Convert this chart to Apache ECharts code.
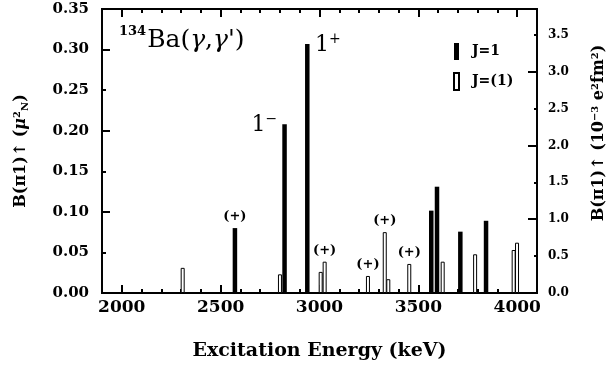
<!DOCTYPE html>
<html>
<head>
<meta charset="utf-8">
<script src="https://cdn.jsdelivr.net/npm/echarts@6/dist/echarts.min.js"></script>
<style>
  html, body { margin: 0; padding: 0; background: #fff; }
  #chart { width: 613px; height: 369px; }
</style>
</head>
<body>
<div id="chart"></div>
<script>
// J=1 levels (filled bars)
const j1Energy = [2571, 2822, 2937, 3564, 3593, 3711, 3841];
const j1Value = [0.080, 0.208, 0.307, 0.1015, 0.131, 0.0756, 0.089];
// J=(1) levels (open bars)
const j1qEnergy = [2308, 2800, 3006, 3026, 3245, 3330, 3348, 3454, 3623, 3787, 3982, 3999];
const j1qValue = [0.031, 0.023, 0.026, 0.0386, 0.021, 0.075, 0.017, 0.0358, 0.0386, 0.0477, 0.053, 0.062];
// levels marked "(+)"
const plusLevels = [2571, 3026, 3245, 3330, 3454];

const xMajorTicks = [2000, 2500, 3000, 3500, 4000];
const xMinorTicks = [2000, 2100, 2200, 2300, 2400, 2500, 2600, 2700, 2800, 2900, 3000,
  3100, 3200, 3300, 3400, 3500, 3600, 3700, 3800, 3900, 4000];
const yLeftMajor = [0.1, 0.2, 0.3];
const yRightLabels = [0, 0.5, 1, 1.5, 2, 2.5, 3, 3.5];
const yRightMinor = [0.5, 1.5, 2.5, 3.5];
const yRightMajor = [1, 2, 3];

const FONT = 'DejaVu Serif';
const black = '#000';

const chart = echarts.init(document.getElementById('chart'));

const plusLabel = {
  show: true,
  position: 'top',
  distance: 5,
  formatter: '(+)',
  fontFamily: FONT,
  fontWeight: 'bold',
  fontSize: 13,
  color: black
};

const spinLabel = {
  '2822': { show: true, position: [-5, -12], align: 'right', formatter: '{n|1}{s|−}' },
  '2937': { show: true, position: [10, -12], align: 'left', formatter: '{n|1}{s|+}' }
};
const spinRich = {
  n: { fontFamily: FONT, fontSize: 22, color: black, verticalAlign: 'bottom', lineHeight: 24 },
  s: { fontFamily: FONT, fontSize: 14, color: black, verticalAlign: 'top', lineHeight: 24, padding: [0, 0, 10, 0] }
};

const makeData = (energies, values) => energies.map((e, i) => {
  const item = { value: [e, values[i]] };
  if (plusLevels.includes(e)) item.label = plusLabel;
  if (spinLabel[e]) item.label = Object.assign({}, spinLabel[e], { rich: spinRich });
  return item;
});

// fresh objects per axis so no option object is shared
const tick = (len, values) => ({
  show: true, inside: true, length: len, customValues: values,
  lineStyle: { color: black, width: 2 }
});
const frameLine = () => ({ show: true, onZero: false, lineStyle: { color: black, width: 1.8 } });
const noLine = () => ({ show: false, onZero: false });

const xAxis = (pos, extra) => Object.assign({
  type: 'value', min: 1900, max: 4100, position: pos,
  splitLine: { show: false }, axisLine: noLine(), axisLabel: { show: false }
}, extra);
const yAxis = (pos, max, extra) => Object.assign({
  type: 'value', min: 0, max: max, position: pos,
  splitLine: { show: false }, axisLine: noLine(), axisLabel: { show: false }
}, extra);

chart.setOption({
  animation: false,
  backgroundColor: '#fff',
  grid: {
    left: 102, right: 76, top: 9, bottom: 76, containLabel: false,
    show: true, borderColor: black, borderWidth: 1.8, backgroundColor: 'transparent'
  },
  title: {
    left: 114,
    top: 20,
    text: '{sup|134}{m|Ba(}{g|γ}{m|,}{g|γ}{m|\')}',
    textStyle: {
      rich: {
        sup: { fontFamily: FONT, fontWeight: 'bold', fontSize: 13, color: black, verticalAlign: 'top', lineHeight: 30, padding: [0, 1, 12, 0] },
        m: { fontFamily: FONT, fontWeight: 'normal', fontSize: 25, color: black, lineHeight: 30 },
        g: { fontFamily: FONT, fontWeight: 'normal', fontStyle: 'italic', fontSize: 25, color: black, lineHeight: 30 }
      }
    }
  },
  legend: {
    orient: 'vertical',
    left: 448,
    top: 38,
    itemWidth: 5,
    itemHeight: 17,
    itemGap: 12,
    icon: 'rect',
    textStyle: { fontFamily: FONT, fontWeight: 'bold', fontSize: 14, color: black, padding: [0, 0, 0, 8] },
    data: ['J=1', 'J=(1)']
  },
  xAxis: [
    xAxis('bottom', {
      axisLine: frameLine(),
      axisTick: tick(8, xMajorTicks),
      axisLabel: {
        show: true, customValues: xMajorTicks, margin: 6,
        formatter: v => String(v),
        fontFamily: FONT, fontWeight: 'bold', fontSize: 17, color: black
      },
      name: 'Excitation Energy (keV)',
      nameLocation: 'middle',
      nameGap: 49,
      nameTextStyle: { fontFamily: FONT, fontWeight: 'bold', fontSize: 19, color: black }
    }),
    xAxis('bottom', { axisTick: tick(4, xMinorTicks) }),
    xAxis('top', { axisLine: frameLine(), axisTick: tick(8, xMajorTicks) }),
    xAxis('top', { axisTick: tick(4, xMinorTicks) })
  ],
  yAxis: [
    yAxis('left', 0.35, {
      interval: 0.05,
      axisLine: frameLine(),
      axisTick: { show: true, inside: true, length: 4, lineStyle: { color: black, width: 2 } },
      axisLabel: {
        show: true, margin: 13,
        formatter: v => v.toFixed(2),
        fontFamily: FONT, fontWeight: 'bold', fontSize: 15, color: black
      },
      name: 'B(π1)↑ ({mu|μ}{sup|2}{sub|N})',
      nameLocation: 'middle',
      nameRotate: 90,
      nameGap: 72,
      nameTextStyle: {
        fontFamily: FONT, fontWeight: 'bold', fontSize: 16, color: black,
        rich: {
          mu: { fontFamily: FONT, fontStyle: 'italic', fontWeight: 'bold', fontSize: 16, color: black },
          sup: { fontFamily: FONT, fontWeight: 'bold', fontSize: 10, color: black, verticalAlign: 'top', padding: [0, 0, 8, 0] },
          sub: { fontFamily: FONT, fontWeight: 'bold', fontSize: 10, color: black, verticalAlign: 'bottom', padding: [6, 0, 0, 0] }
        }
      }
    }),
    yAxis('left', 0.35, { axisTick: tick(8, yLeftMajor) }),
    yAxis('right', 3.85, {
      axisLine: frameLine(),
      axisTick: tick(3, yRightMinor),
      axisLabel: {
        show: true, customValues: yRightLabels, margin: 11,
        formatter: v => v.toFixed(1),
        fontFamily: FONT, fontWeight: 'bold', fontSize: 12, color: black
      }
    }),
    yAxis('right', 3.85, { axisTick: tick(9, yRightMajor) })
  ],
  graphic: [{
    type: 'text',
    x: 599,
    y: 133,
    rotation: Math.PI / 2,
    style: {
      text: 'B(π1)↑ (10{sup|−3} e{sup|2}fm{sup|2})',
      fontFamily: FONT, fontWeight: 'bold', fontSize: 16, fill: black,
      align: 'center', verticalAlign: 'middle',
      rich: {
        sup: { fontFamily: FONT, fontWeight: 'bold', fontSize: 10, fill: black, verticalAlign: 'top', padding: [0, 0, 8, 0] }
      }
    }
  }],
  series: [
    {
      name: 'J=1',
      type: 'bar',
      xAxisIndex: 0,
      yAxisIndex: 0,
      barWidth: 4.5,
      barGap: '-100%',
      itemStyle: { color: black },
      data: makeData(j1Energy, j1Value)
    },
    {
      name: 'J=(1)',
      type: 'bar',
      xAxisIndex: 0,
      yAxisIndex: 0,
      barWidth: 4,
      barGap: '-100%',
      itemStyle: { color: '#fff', borderColor: black, borderWidth: 1 },
      data: makeData(j1qEnergy, j1qValue)
    }
  ]
});
</script>
</body>
</html>
